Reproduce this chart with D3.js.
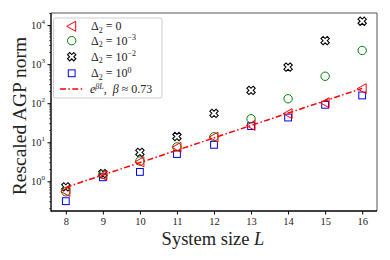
<!DOCTYPE html>
<html>
<head>
<meta charset="utf-8">
<script src="https://cdn.jsdelivr.net/npm/d3@7"></script>
<style>
  body { margin: 0; background: #fff; }
  text { font-family: "Liberation Serif", "DejaVu Serif", serif; }
</style>
</head>
<body>
<svg id="chart"></svg>
<script>
// data
const sizes = [8, 9, 10, 11, 12, 13, 14, 15, 16];
const delta0 = [0.55, 1.42, 3.15, 7.4, 13.5, 27, 54, 103, 235];
const delta1e3 = [0.54, 1.5, 3.3, 7.6, 13.8, 40, 130, 490, 2240];
const delta1e2 = [0.72, 1.57, 5.5, 14, 55, 213, 840, 4000, 12600];
const delta1e0 = [0.31, 1.27, 1.74, 5.0, 8.6, 26, 43, 91, 158];
const fitL = [8, 16];
const fitY = [0.70, 240];
const xTicks = [8, 9, 10, 11, 12, 13, 14, 15, 16];
const yTicks = [0, 1, 2, 3, 4]; // exponents

const width = 390, height = 260;
const margin = {top: 13, right: 13, bottom: 49, left: 51};

const svg = d3.select("#chart")
    .attr("width", width)
    .attr("height", height);

const x = d3.scaleLinear()
    .domain([7.6, 16.4])
    .range([margin.left, width - margin.right]);

const y = d3.scaleLog()
    .domain([Math.pow(10, -0.76), Math.pow(10, 4.31)])
    .range([height - margin.bottom, margin.top]);

// axes
const xAxis = svg.append("g")
    .attr("transform", `translate(0,${height - margin.bottom})`)
    .call(d3.axisBottom(x).tickValues(xTicks).tickSize(3.5).tickPadding(3))
    .call(g => g.select(".domain").remove());
xAxis.selectAll("text")
    .attr("font-size", 10.5)
    .attr("font-family", "Liberation Serif")
    .attr("fill", "#222");

// minor log ticks
const minor = [];
for (let e = -1; e <= 4; e++) {
    for (let m = 2; m <= 9; m++) {
        const v = m * Math.pow(10, e);
        if (v >= y.domain()[0] && v <= y.domain()[1]) minor.push(v);
    }
}
svg.append("g")
    .selectAll("line")
    .data(minor)
    .join("line")
    .attr("x1", margin.left - 2)
    .attr("x2", margin.left)
    .attr("y1", d => y(d))
    .attr("y2", d => y(d))
    .attr("stroke", "#000")
    .attr("stroke-width", 0.6);

svg.append("g")
    .attr("transform", `translate(${margin.left},0)`)
    .call(d3.axisLeft(y).tickValues(yTicks.map(e => Math.pow(10, e))).tickSize(3.5).tickFormat(""))
    .call(g => g.select(".domain").remove());

const yLab = svg.append("g");
yTicks.forEach(e => {
    const t = yLab.append("text")
        .attr("x", margin.left - 6)
        .attr("y", y(Math.pow(10, e)) + 3.5)
        .attr("text-anchor", "end")
        .attr("font-size", 10.5)
        .attr("fill", "#222");
    t.append("tspan").text("10");
    t.append("tspan").attr("dy", -4.5).attr("font-size", 7).text(e);
});

// frame
const x0 = margin.left, x1 = width - margin.right, y0 = margin.top, y1 = height - margin.bottom;
svg.append("line").attr("x1", x0).attr("x2", x1).attr("y1", y0).attr("y2", y0).attr("stroke", "#555").attr("stroke-width", 1);
svg.append("line").attr("x1", x1).attr("x2", x1).attr("y1", y0).attr("y2", y1).attr("stroke", "#555").attr("stroke-width", 1);
svg.append("line").attr("x1", x0).attr("x2", x0).attr("y1", y0).attr("y2", y1 + 0.6).attr("stroke", "#000").attr("stroke-width", 1.4);
svg.append("line").attr("x1", x0).attr("x2", x1).attr("y1", y1).attr("y2", y1).attr("stroke", "#000").attr("stroke-width", 1.4);

// axis labels
svg.append("text")
    .attr("x", 213)
    .attr("y", 245)
    .attr("text-anchor", "middle")
    .attr("font-size", 18.5)
    .attr("fill", "#222")
    .call(t => {
        t.append("tspan").text("System size ");
        t.append("tspan").attr("font-style", "italic").text("L");
    });

svg.append("text")
    .attr("transform", `translate(25.5,116) rotate(-90)`)
    .attr("text-anchor", "middle")
    .attr("font-size", 19.5)
    .attr("fill", "#222")
    .text("Rescaled AGP norm");

// marker shapes
const tri = d3.line()([[-5, 0], [4, -5], [4, 5]]) + "Z";
function xShape(a, t) {
    const pts = [[-t, -a], [t, -a], [t, -t], [a, -t], [a, t], [t, t], [t, a], [-t, a], [-t, t], [-a, t], [-a, -t], [-t, -t]];
    const c = Math.SQRT1_2;
    return d3.line()(pts.map(([px, py]) => [c * (px - py), c * (px + py)])) + "Z";
}
const xPath = xShape(4.4, 1.5);

const series = [
    {values: delta1e0, color: "#0000ff", kind: "square"},
    {values: delta1e2, color: "#000", kind: "x"},
    {values: delta1e3, color: "#008000", kind: "circle"},
    {values: delta0, color: "#ff0000", kind: "tri"}
];

const plot = svg.append("g");

function drawMarker(g, kind, color, cx, cy) {
    if (kind === "square") {
        g.append("rect").attr("x", cx - 3.4).attr("y", cy - 3.4).attr("width", 6.8).attr("height", 6.8)
            .attr("fill", "none").attr("stroke", color).attr("stroke-width", 1);
    } else if (kind === "circle") {
        g.append("circle").attr("cx", cx).attr("cy", cy).attr("r", 4.2)
            .attr("fill", "none").attr("stroke", color).attr("stroke-width", 1);
    } else if (kind === "x") {
        g.append("path").attr("d", xPath).attr("transform", `translate(${cx},${cy})`)
            .attr("fill", "none").attr("stroke", color).attr("stroke-width", 1.1);
    } else {
        g.append("path").attr("d", tri).attr("transform", `translate(${cx},${cy})`)
            .attr("fill", "none").attr("stroke", color).attr("stroke-width", 1);
    }
}

series.forEach(s => {
    s.values.forEach((v, i) => drawMarker(plot, s.kind, s.color, x(sizes[i]), y(v)));
});

// fit line
plot.append("path")
    .datum(fitL.map((l, i) => [l, fitY[i]]))
    .attr("d", d3.line().x(d => x(d[0])).y(d => y(d[1])))
    .attr("fill", "none")
    .attr("stroke", "#ff0000")
    .attr("stroke-width", 1.5)
    .attr("stroke-dasharray", "6,2.4,1.5,2.4");

// legend
const legend = svg.append("g");
legend.append("rect")
    .attr("x", 53.5).attr("y", 18).attr("width", 108.5).attr("height", 80).attr("rx", 2)
    .attr("fill", "#fff").attr("fill-opacity", 0.8)
    .attr("stroke", "#ccc").attr("stroke-width", 1);

const legendItems = [
    {kind: "tri", color: "#ff0000", sup: "0", base: true},
    {kind: "circle", color: "#008000", sup: "−3"},
    {kind: "x", color: "#000", sup: "−2"},
    {kind: "square", color: "#0000ff", sup: "0"},
    {kind: "line", color: "#ff0000"}
];
const rowY = [26.3, 40.7, 56.7, 73.3, 89];

legendItems.forEach((it, i) => {
    const cy = rowY[i];
    if (it.kind === "line") {
        legend.append("line").attr("x1", 60).attr("x2", 83).attr("y1", cy).attr("y2", cy)
            .attr("stroke", it.color).attr("stroke-width", 1.5).attr("stroke-dasharray", "6,2.4,1.5,2.4");
        const t = legend.append("text").attr("x", 90).attr("y", cy + 4).attr("font-size", 12).attr("fill", "#222");
        t.append("tspan").attr("font-style", "italic").text("e");
        t.append("tspan").attr("dy", -4.5).attr("font-size", 8).attr("font-style", "italic").text("βL");
        t.append("tspan").attr("dy", 4.5).text(",\u2002");
        t.append("tspan").attr("font-style", "italic").text("β");
        t.append("tspan").text(" ≈ 0.73");
    } else {
        drawMarker(legend, it.kind, it.color, 71.7, cy);
        const t = legend.append("text").attr("x", 91).attr("y", cy + 4).attr("font-size", 12).attr("fill", "#222");
        t.append("tspan").text("Δ");
        t.append("tspan").attr("dy", 2.5).attr("font-size", 8).text("2");
        if (it.base) {
            t.append("tspan").attr("dy", -2.5).text(" = 0");
        } else {
            t.append("tspan").attr("dy", -2.5).text(" = 10");
            t.append("tspan").attr("dy", -4.5).attr("font-size", 8).text(it.sup);
        }
    }
});
</script>
</body>
</html>
